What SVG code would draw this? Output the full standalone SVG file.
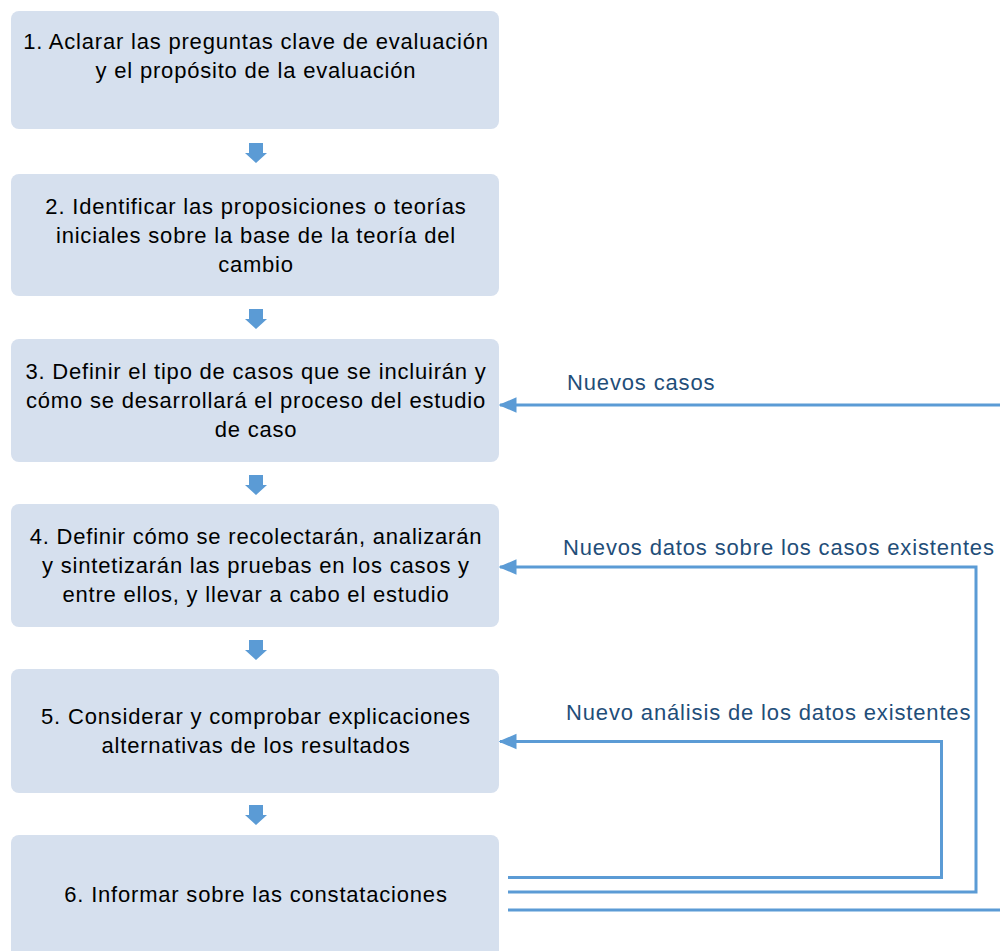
<svg xmlns="http://www.w3.org/2000/svg" width="1000" height="951" viewBox="0 0 1000 951">
<defs>
<style>
.box{fill:#d6e0ee;}
.t{font-family:"Liberation Sans",Arial,sans-serif;font-size:22px;letter-spacing:0.8px;fill:#000;text-anchor:middle;}
.lbl{font-family:"Liberation Sans",Arial,sans-serif;font-size:22px;letter-spacing:0.85px;fill:#1f4e79;}
.blk{fill:#5b9bd5;}
.con{fill:none;stroke:#5b9bd5;stroke-width:3;}
</style>
<marker id="ah" markerWidth="6" markerHeight="6" refX="5.5" refY="3" orient="auto" markerUnits="strokeWidth">
<path d="M0,0.4 L6,3 L0,5.6 Z" fill="#5b9bd5"/>
</marker>
<path id="darr" d="M-7,0 H7 V10 H11 L0,20 L-11,10 H-7 Z"/>
</defs>
<rect width="1000" height="951" fill="#ffffff"/>
<g id="node1"><rect class="box" x="11" y="11" width="488" height="118" rx="8"/>
<text class="t" x="256" y="49">1. Aclarar las preguntas clave de evaluación</text>
<text class="t" x="256" y="78">y el propósito de la evaluación</text></g>
<g id="node2"><rect class="box" x="11" y="174" width="488" height="122" rx="8"/>
<text class="t" x="256" y="214">2. Identificar las proposiciones o teorías</text>
<text class="t" x="256" y="243">iniciales sobre la base de la teoría del</text>
<text class="t" x="256" y="272">cambio</text></g>
<g id="node3"><rect class="box" x="11" y="339" width="488" height="123" rx="8"/>
<text class="t" x="256" y="379">3. Definir el tipo de casos que se incluirán y</text>
<text class="t" x="256" y="408">cómo se desarrollará el proceso del estudio</text>
<text class="t" x="256" y="437">de caso</text></g>
<g id="node4"><rect class="box" x="11" y="504" width="488" height="123" rx="8"/>
<text class="t" x="256" y="544">4. Definir cómo se recolectarán, analizarán</text>
<text class="t" x="256" y="573">y sintetizarán las pruebas en los casos y</text>
<text class="t" x="256" y="602">entre ellos, y llevar a cabo el estudio</text></g>
<g id="node5"><rect class="box" x="11" y="669" width="488" height="124" rx="8"/>
<text class="t" x="256" y="724">5. Considerar y comprobar explicaciones</text>
<text class="t" x="256" y="753">alternativas de los resultados</text></g>
<g id="node6"><rect class="box" x="11" y="835" width="488" height="130" rx="8"/>
<text class="t" x="256" y="902">6. Informar sobre las constataciones</text></g>
<g id="connectors">
<use href="#darr" class="blk" x="256" y="143"/>
<use href="#darr" class="blk" x="256" y="309"/>
<use href="#darr" class="blk" x="256" y="475"/>
<use href="#darr" class="blk" x="256" y="640"/>
<use href="#darr" class="blk" x="256" y="805"/>
<path class="con" d="M1000,405 H500" marker-end="url(#ah)"/>
<path class="con" d="M508,877.5 H941.5 V741.5 H500" marker-end="url(#ah)"/>
<path class="con" d="M508,892 H976 V567 H500" marker-end="url(#ah)"/>
<path class="con" d="M508,910 H1000"/>
</g>
<g id="labels">
<text class="lbl" x="567" y="390">Nuevos casos</text>
<text class="lbl" x="563" y="555">Nuevos datos sobre los casos existentes</text>
<text class="lbl" x="566" y="720">Nuevo análisis de los datos existentes</text>
</g>
</svg>
